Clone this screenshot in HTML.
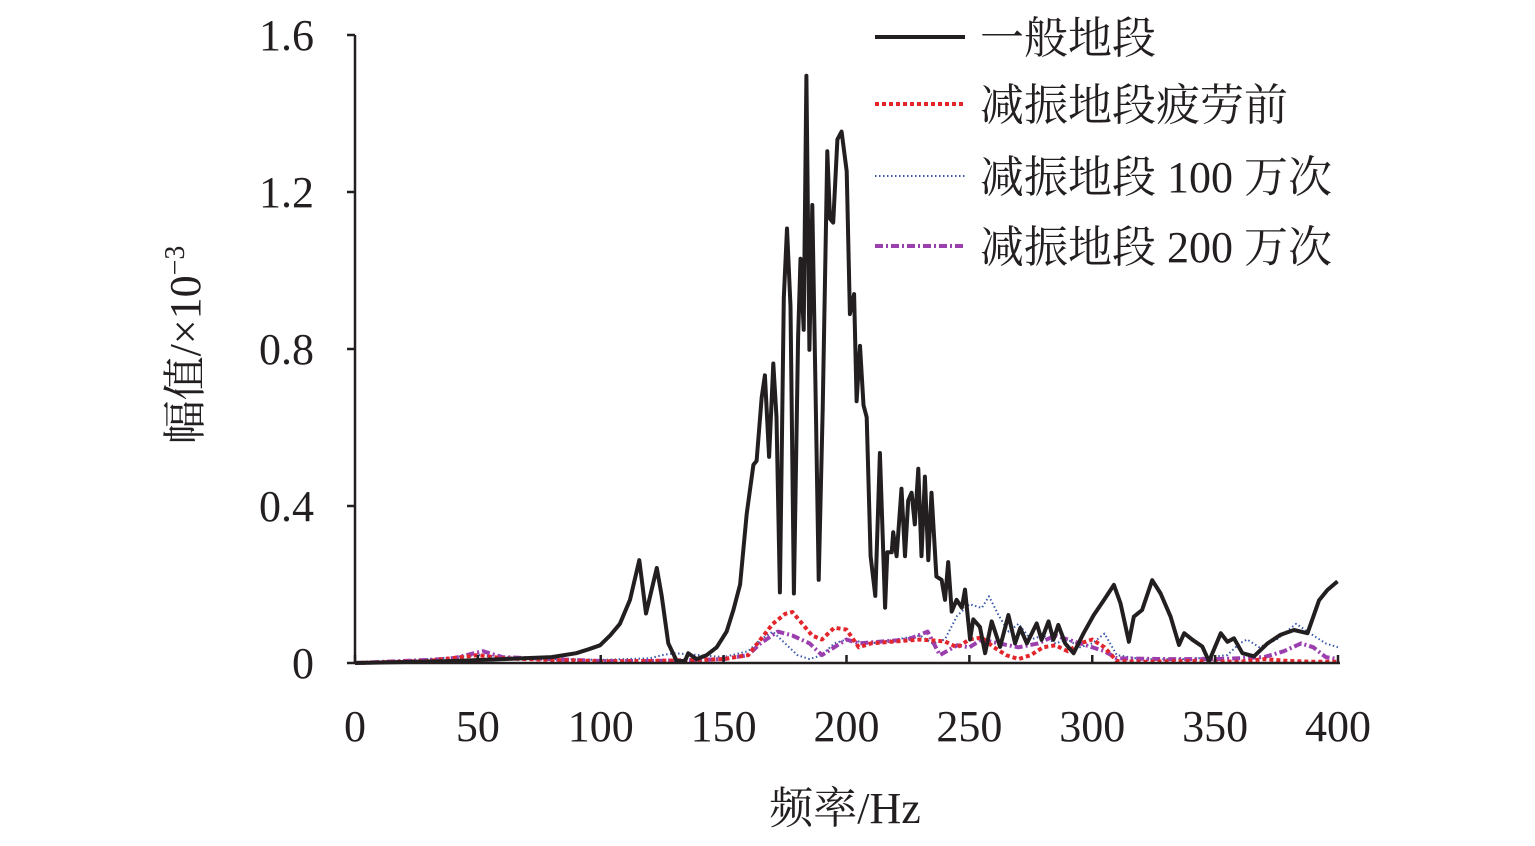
<!DOCTYPE html>
<html><head><meta charset="utf-8"><style>
html,body{margin:0;padding:0;background:#fff;}
svg{display:block;}
text{font-family:"Liberation Serif","Noto Serif CJK SC",serif;fill:#231f20;}
</style></head><body>
<svg id="chart" width="1535" height="846"></svg>
<script>
const xTicks=[0,50,100,150,200,250,300,350,400];
const yTicks=[0,0.4,0.8,1.2,1.6];
const yTickLabels=["0","0.4","0.8","1.2","1.6"];
const seriesNames=["一般地段","减振地段疲劳前","减振地段 100 万次","减振地段 200 万次"];
const blackF=[0,40,60,80,90,95,99.7,103.8,107.8,111.9,115.7,118.4,122.8,124.8,127.5,130.9,134.3,135.6,139,143.1,147.2,151.2,154,156.7,159.4,162.1,163.4,165.5,166.8,168.5,170.2,171.5,172.9,174.5,175.8,177.2,178.6,180.3,181.3,182.6,183.7,184.9,186.1,187.6,188.7,190.3,192.2,193.3,194.6,196.3,198,200.1,201.4,203.1,204.1,205.5,206.9,208.2,209.8,211.7,213.6,215.7,216.6,218.4,219,220.4,222.4,223.8,225.1,226.5,227.8,229.2,230.5,231.9,233.3,234.6,236.6,238.7,240.1,241.4,242.8,244.8,246.9,248.2,250.3,251.6,254.3,256.4,259.1,262.5,265.9,268.6,270.7,273.4,277.4,279.4,282.2,284.2,286.2,289,292.4,296.5,300.6,304.7,308.8,311.5,314.9,316.9,320.3,324.4,327.8,331.9,335.3,337.4,340.8,344.8,347.5,352.3,355,357.7,361.1,365.8,371.3,376.7,382.1,387.6,392.3,395.7,399.8];
const blackV=[0,0.005,0.01,0.015,0.025,0.035,0.045,0.07,0.1,0.161,0.262,0.126,0.242,0.171,0.05,0.005,0.005,0.025,0.01,0.02,0.04,0.08,0.136,0.2,0.38,0.505,0.515,0.677,0.733,0.525,0.763,0.626,0.18,0.93,1.107,0.909,0.177,0.829,1.03,0.849,1.496,0.798,1.167,0.626,0.212,0.647,1.304,1.132,1.122,1.334,1.354,1.253,0.889,0.94,0.667,0.808,0.657,0.626,0.272,0.171,0.535,0.141,0.282,0.282,0.333,0.272,0.444,0.272,0.414,0.434,0.353,0.495,0.272,0.475,0.262,0.434,0.22,0.212,0.161,0.257,0.131,0.161,0.141,0.187,0.06,0.111,0.092,0.025,0.106,0.041,0.122,0.05,0.089,0.05,0.101,0.059,0.106,0.059,0.097,0.05,0.025,0.076,0.122,0.16,0.199,0.152,0.054,0.118,0.135,0.211,0.177,0.118,0.046,0.076,0.059,0.042,0.004,0.076,0.054,0.063,0.025,0.017,0.05,0.072,0.084,0.076,0.16,0.186,0.208];
const redF=[0,30,50,60,80,100,120,140,150,160,165,170,175,178,182,186,190,195,200,205,210,220,230,240,245,250,255,260,265,270,275,280,285,290,295,300,305,310,320,340,360,370,380,390,400];
const redV=[0,0.005,0.02,0.012,0.008,0.004,0.005,0.008,0.01,0.02,0.06,0.1,0.125,0.13,0.1,0.07,0.06,0.09,0.085,0.04,0.05,0.055,0.06,0.055,0.04,0.06,0.065,0.04,0.02,0.01,0.02,0.04,0.045,0.03,0.05,0.06,0.04,0.005,0.003,0.005,0.003,0.01,0.005,0.003,0.003];
const blueF=[0,30,40,50,60,80,100,120,125,130,140,150,160,165,170,175,180,185,190,195,200,210,220,230,235,240,245,250,255,258,262,266,270,275,280,285,290,295,300,305,310,320,340,355,360,363,368,375,383,390,395,400];
const blueV=[0,0.01,0.015,0.02,0.015,0.01,0.008,0.012,0.02,0.025,0.02,0.015,0.03,0.06,0.08,0.05,0.02,0.01,0.02,0.05,0.06,0.05,0.06,0.07,0.05,0.06,0.12,0.15,0.14,0.17,0.12,0.08,0.1,0.06,0.07,0.05,0.06,0.04,0.05,0.075,0.02,0.01,0.01,0.02,0.05,0.06,0.04,0.06,0.1,0.07,0.05,0.04];
const purpleF=[0,30,40,52,60,80,100,120,140,150,160,165,172,178,185,190,195,200,205,215,225,233,238,245,250,255,262,270,278,285,290,295,300,305,310,330,350,360,370,378,385,390,395,400];
const purpleV=[0,0.008,0.012,0.03,0.015,0.01,0.005,0.005,0.008,0.01,0.02,0.05,0.08,0.07,0.05,0.02,0.04,0.06,0.05,0.055,0.06,0.08,0.02,0.045,0.04,0.06,0.05,0.04,0.05,0.07,0.06,0.05,0.04,0.03,0.012,0.01,0.01,0.012,0.015,0.03,0.05,0.04,0.015,0.01];

const NS="http://www.w3.org/2000/svg";
const svg=document.getElementById('chart');
const X0=355,X1=1338,Y0=663,Y1=35;
const xs=f=>X0+(f/400)*(X1-X0);
const ys=v=>Y0-(v/1.6)*(Y0-Y1);
function mk(tag,attrs,parent){const e=document.createElementNS(NS,tag);for(const k in attrs)e.setAttribute(k,attrs[k]);(parent||svg).appendChild(e);return e;}

function drawSeries(F,V,stroke,width,dash,name){
  let d='';
  for(let i=0;i<F.length;i++){d+=(i?'L':'M')+xs(F[i]).toFixed(1)+','+ys(V[i]).toFixed(1);}
  const p=mk('path',{d:d,fill:'none',stroke:stroke,'stroke-width':width,'stroke-linejoin':'round'});
  if(dash)p.setAttribute('stroke-dasharray',dash);
  
  
}
drawSeries(blueF,blueV,'#3a5aa8',2,'1.5 2.5','series-100wan');
drawSeries(purpleF,purpleV,'#9b3fae',4,'8 3 2 3','series-200wan');
drawSeries(redF,redV,'#e3262b',4,'4 3','series-before-fatigue');
drawSeries(blackF,blackV,'#231f20',4,null,'series-general');

// axes
const ax=mk('line',{x1:X0,y1:Y1,x2:X0,y2:Y0,stroke:'#231f20','stroke-width':2.5});


const bx=mk('line',{x1:X0,y1:Y0,x2:X1+2,y2:Y0,stroke:'#231f20','stroke-width':2.5});


yTicks.forEach((v,i)=>{
  const y=ys(v);
  mk('line',{x1:X0-8,y1:y,x2:X0,y2:y,stroke:'#231f20','stroke-width':2.5});
  const t=mk('text',{x:314,y:y+15,'text-anchor':'end','font-size':44});
  t.textContent=yTickLabels[i];
  
  
});
xTicks.forEach(f=>{
  const x=xs(f);
  mk('line',{x1:x,y1:Y0-8,x2:x,y2:Y0,stroke:'#231f20','stroke-width':2.5});
  const t=mk('text',{x:x,y:741,'text-anchor':'middle','font-size':44});
  t.textContent=String(f);
  
  
});
const xt=mk('text',{x:845,y:823,'text-anchor':'middle','font-size':44});
xt.textContent='频率/Hz';


const yt=mk('text',{x:0,y:0,'text-anchor':'middle','font-size':44,transform:'translate(200,345) rotate(-90)'});
yt.innerHTML='幅值/×10<tspan dy="-16" font-size="28">−3</tspan>';



// legend
const legY=[37,104,176,246];
const legStyle=[['#231f20',4,null],['#e3262b',4,'4 3'],['#3a5aa8',2,'1.5 2.5'],['#9b3fae',4,'8 3 2 3']];
seriesNames.forEach((n,i)=>{
  const l=mk('line',{x1:875,y1:legY[i],x2:965,y2:legY[i],stroke:legStyle[i][0],'stroke-width':legStyle[i][1]});
  if(legStyle[i][2])l.setAttribute('stroke-dasharray',legStyle[i][2]);
  
  
  const t=mk('text',{x:980,y:legY[i]+16,'font-size':44});
  t.textContent=n;
  
  
});
</script>
</body></html>
